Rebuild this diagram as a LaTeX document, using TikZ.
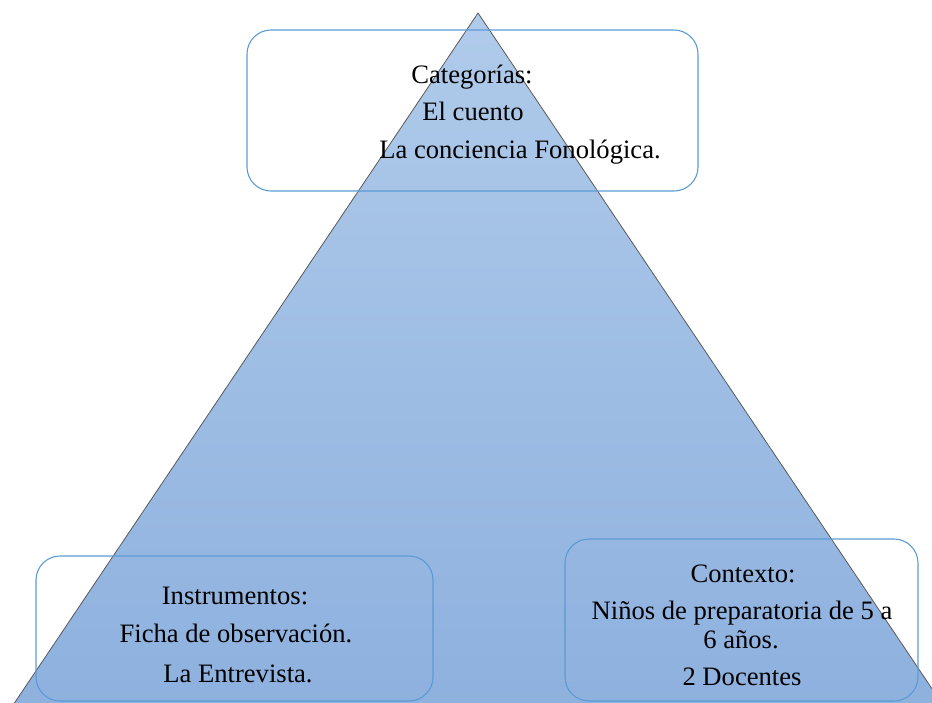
\documentclass[tikz,border=0pt]{standalone}
\usepackage{fontspec}
\setmainfont{Liberation Serif}
\usetikzlibrary{positioning}
\definecolor{boxblue}{HTML}{5B9BD5}
\definecolor{tritop}{HTML}{B0CBEA}
\definecolor{tribot}{HTML}{8DB0DE}
\tikzstyle{round_box}=[draw=boxblue, line width=1.1pt, rounded corners=24pt, inner sep=0pt]
\tikzstyle{box_text}=[anchor=base, inner sep=0pt, font=\fontsize{26.6}{30}\selectfont]

\begin{document}
\begin{tikzpicture}[x=1pt, y=-1pt]
\useasboundingbox (0,0) rectangle (932,702);
\clip (0,0) rectangle (932,702);
\coordinate (apex) at (478,13);
\coordinate (base_l) at (3,720);
\coordinate (base_r) at (953,720);
\shade[top color=tritop, bottom color=tribot, draw=black!65, line width=0.8pt] (apex) -- (base_l) -- (base_r) -- cycle;
% boxes
\node[round_box, minimum width=451pt, minimum height=161pt] (cat) at (472.5,110.5){};
\node[round_box, minimum width=397pt, minimum height=145pt] (ins) at (234.5,628.5){};
\node[round_box, minimum width=353pt, minimum height=162pt] (ctx) at (741.5,620){};
% texts
\node[box_text] (cat0) at (472,83){Categorías:};
\node[box_text] (cat1) at (473,120){El cuento};
\node[box_text] (cat2) at (520,158){La conciencia Fonológica.};
\node[box_text] (ins0) at (235,604){Instrumentos:};
\node[box_text] (ins1) at (236,642){Ficha de observación.};
\node[box_text] (ins2) at (238,682){La Entrevista.};
\node[box_text] (ctx0) at (743,582){Contexto:};
\node[box_text] (ctx1) at (742,619){Niños de preparatoria de 5 a};
\node[box_text] (ctx2) at (741,648){6 años.};
\node[box_text] (ctx3) at (742,685){2 Docentes};
\end{tikzpicture}
\end{document}
